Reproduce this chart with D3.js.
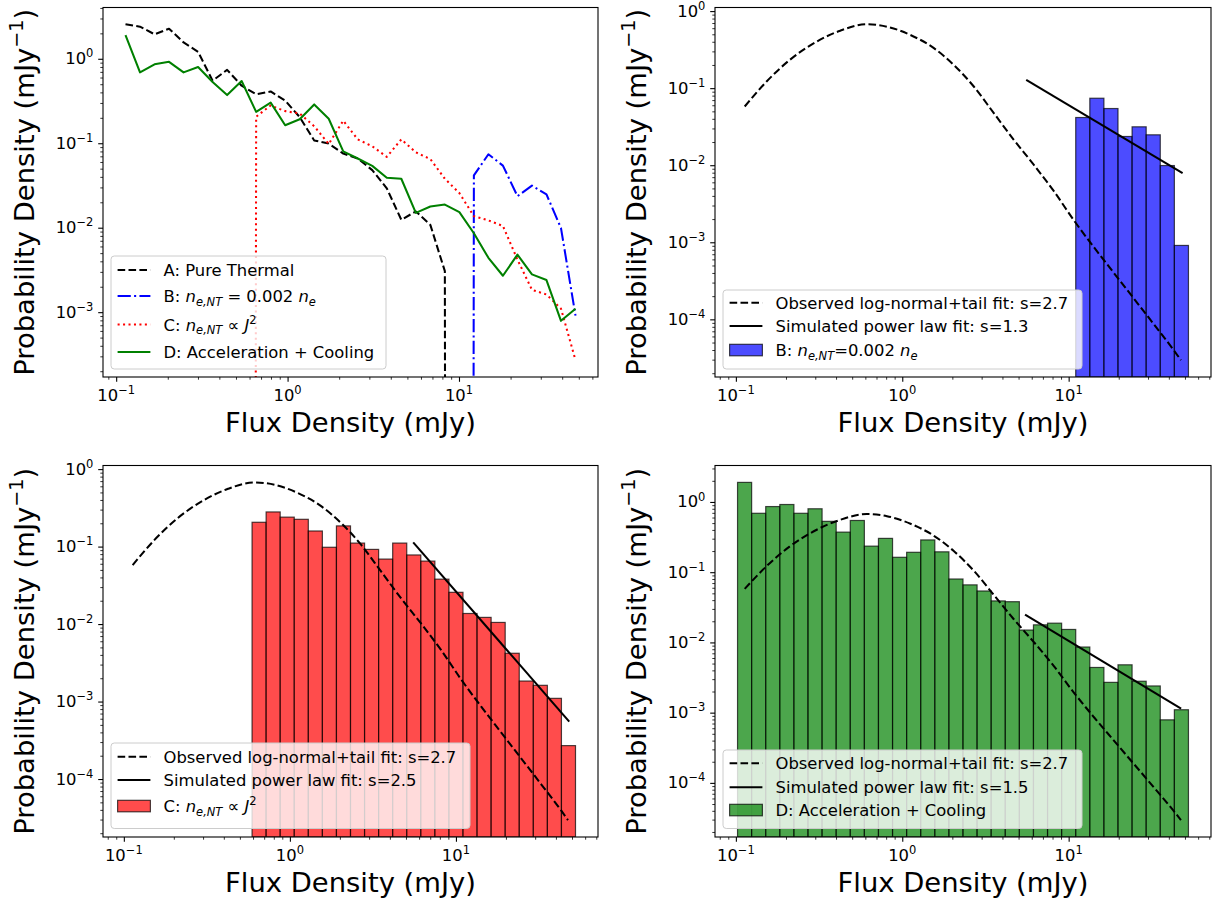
<!DOCTYPE html>
<html>
<head>
<meta charset="utf-8">
<script src="https://cdn.jsdelivr.net/npm/d3@7"></script>
<style>
body { margin: 0; background: #fff; }
text { font-family: "DejaVu Sans", sans-serif; fill: #000; }
</style>
</head>
<body>
<svg id="fig" width="1213" height="901"></svg>
<script>
// log-spaced histogram bins (flux density, mJy)
var binLogLo = -0.99, binLogHi = 1.72, nBins = 32;

// probability density per bin (mJy^-1), 0 = empty bin
var thermalA = [2.56, 2.4, 1.95, 2.27, 1.56, 1.21, 0.55, 0.74, 0.48, 0.38, 0.41, 0.32,
                0.204, 0.108, 0.099, 0.0755, 0.066, 0.048, 0.0293, 0.0124, 0.0156, 0.0108,
                0.00306, 0, 0, 0, 0, 0, 0, 0, 0, 0];
var fixedB = [0, 0, 0, 0, 0, 0, 0, 0, 0, 0, 0, 0, 0, 0, 0, 0, 0, 0, 0, 0, 0, 0, 0, 0,
              0.0416, 0.074, 0.0544, 0.0236, 0.0315, 0.0248, 0.0099, 0.00091];
var currentC = [0, 0, 0, 0, 0, 0, 0, 0, 0,
                0.206, 0.28, 0.24, 0.225, 0.159, 0.098, 0.185, 0.111, 0.092, 0.069, 0.111,
                0.078, 0.065, 0.038, 0.0257, 0.0137, 0.0122, 0.0105, 0.0042, 0.00184,
                0.00162, 0.0011, 0.00027];
var accelD = [1.9, 0.69, 0.86, 0.92, 0.69, 0.80, 0.53, 0.372, 0.545, 0.235, 0.303, 0.163,
              0.192, 0.288, 0.195, 0.08, 0.066, 0.054, 0.039, 0.038, 0.015, 0.0178, 0.0188,
              0.0153, 0.0086, 0.0044, 0.0027, 0.0048, 0.0028, 0.0024, 0.00079, 0.0011];

// observed log-normal + tail fit
var fitFlux = [0.113, 0.153, 0.211, 0.306, 0.424, 0.612, 0.809, 1.12, 1.55, 2.04, 2.69,
               3.55, 4.68, 6.18, 8.15, 10.8, 14.2, 18.7, 24.7, 32.7, 43.1, 47.3];
var fitDens = [0.0578, 0.122, 0.233, 0.402, 0.557, 0.674, 0.628, 0.49, 0.33, 0.2, 0.105,
               0.0474, 0.0214, 0.0101, 0.0046, 0.0019, 0.00086, 0.0004, 0.000185,
               0.000085, 0.000039, 0.0000295];

// simulated power law fits, end points
var powB_x = [5.56, 48.4], powB_y = [0.128, 0.0079];
var powC_x = [5.53, 48.1], powC_y = [0.1135, 0.00055];
var powD_x = [5.47, 47.4], powD_y = [0.0249, 0.00114];

var FS = 16.4, LABFS = 27.4, LW = 2.05;
var DASH = "7.6,3.3", DASHDOT = "13.2,3.3,2.05,3.3", DOT = "2.05,3.4";

var svg = d3.select("#fig");

var edges = d3.range(nBins + 1).map(function(i) {
    return Math.pow(10, binLogLo + (binLogHi - binLogLo) * i / nBins);
});
var centers = d3.range(nBins).map(function(i) { return (edges[i] + edges[i + 1]) / 2; });

// matplotlib style 5% margin in log space
function logPad(vals) {
    var lg = vals.filter(function(v) { return v > 0; }).map(Math.log10);
    var lo = d3.min(lg), hi = d3.max(lg), r = hi - lo;
    return [Math.pow(10, lo - 0.05 * r), Math.pow(10, hi + 0.05 * r)];
}

function logTicks(dom) {
    var major = [], minor = [];
    for (var e = Math.floor(Math.log10(dom[0])); e <= Math.ceil(Math.log10(dom[1])); e++) {
        var v = Math.pow(10, e);
        if (v >= dom[0] && v <= dom[1]) major.push(v);
        for (var k = 2; k < 10; k++) {
            if (k * v >= dom[0] && k * v <= dom[1]) minor.push(k * v);
        }
    }
    return {major: major, minor: minor};
}

// text with italic / sub / superscript pieces
function richText(sel, segs, size) {
    var shift = 0;
    segs.forEach(function(s) {
        if (typeof s == "string") s = {t: s};
        var target = s.sub ? size * 0.24 : (s.sup ? -size * 0.42 : 0);
        var ts = sel.append("tspan").attr("dy", target - shift).text(s.t);
        if (s.sub || s.sup) ts.attr("font-size", size * 0.7);
        if (s.i) ts.attr("font-style", "italic");
        shift = target;
    });
}

function expLabel(v) {
    var e = Math.round(Math.log10(v));
    return ["10", {t: (e < 0 ? "\u2212" + (-e) : "" + e), sup: true}];
}

var nENT = [{t: "n", i: true}, {t: "e,NT", i: true, sub: true}];

var panels = [
    {box: [103, 7.5, 598, 377], kind: "lines",
     legend: {x: 111, y: 256, w: 275, h: 113, rows: [14, 40, 68.5, 96]},
     items: [
        {type: "line", dash: DASH, color: "#000", data: thermalA, label: ["A: Pure Thermal"]},
        {type: "line", dash: DASHDOT, color: "#0000ff", data: fixedB,
         label: ["B: "].concat(nENT, [" = 0.002 ", {t: "n", i: true}, {t: "e", i: true, sub: true}])},
        {type: "line", dash: DOT, color: "#ff0000", data: currentC,
         label: ["C: "].concat(nENT, [" \u221D ", {t: "J", i: true}, {t: "2", sup: true}])},
        {type: "line", dash: null, color: "#008000", data: accelD, label: ["D: Acceleration + Cooling"]}
     ]},
    {box: [715, 7.5, 1211, 377], kind: "hist", bars: fixedB, color: "#0000ff",
     px: powB_x, py: powB_y, s: "1.3",
     legend: {x: 723, y: 290, w: 359, h: 79, rows: [12.7, 36, 60]},
     barLabel: ["B: "].concat(nENT, ["=0.002 ", {t: "n", i: true}, {t: "e", i: true, sub: true}])},
    {box: [103, 465.5, 598, 837], kind: "hist", bars: currentC, color: "#ff0000",
     px: powC_x, py: powC_y, s: "2.5",
     legend: {x: 111, y: 743, w: 359, h: 85.5, rows: [13.7, 37, 63]},
     barLabel: ["C: "].concat(nENT, [" \u221D ", {t: "J", i: true}, {t: "2", sup: true}])},
    {box: [715, 465.5, 1211, 837], kind: "hist", bars: accelD, color: "#008000",
     px: powD_x, py: powD_y, s: "1.5",
     legend: {x: 723, y: 750, w: 359, h: 78.5, rows: [13.3, 37.3, 60]},
     barLabel: ["D: Acceleration + Cooling"]}
];

panels.forEach(function(p, pi) {
    var w = p.box[2] - p.box[0], h = p.box[3] - p.box[1];
    var xdom, ydom;
    if (p.kind == "lines") {
        xdom = logPad(centers);
        ydom = logPad(thermalA.concat(fixedB, currentC, accelD));
    } else {
        xdom = logPad(edges.concat(fitFlux, p.px));
        ydom = logPad(p.bars.concat(fitDens, p.py));
    }
    var x = d3.scaleLog().domain(xdom).range([0, w]);
    var y = d3.scaleLog().domain(ydom).range([h, 0]);

    var g = svg.append("g").attr("transform", "translate(" + p.box[0] + "," + p.box[1] + ")");
    g.append("clipPath").attr("id", "clip" + pi)
        .append("rect").attr("width", w).attr("height", h);
    var plot = g.append("g").attr("clip-path", "url(#clip" + pi + ")");

    // zero densities fall far below the axis, like matplotlib clipping
    var yv = function(v) { return v > 0 ? y(v) : h + 1e4; };

    if (p.kind == "lines") {
        p.items.forEach(function(it) {
            var line = d3.line().x(function(d, i) { return x(centers[i]); }).y(function(d) { return yv(d); });
            plot.append("path").datum(it.data)
                .attr("d", line)
                .attr("fill", "none")
                .attr("stroke", it.color)
                .attr("stroke-width", LW)
                .attr("stroke-linejoin", "round")
                .attr("stroke-dasharray", it.dash);
        });
    } else {
        var bins = p.bars.map(function(v, i) { return {v: v, i: i}; }).filter(function(d) { return d.v > 0; });
        plot.selectAll("rect.bar").data(bins).enter().append("rect")
            .attr("class", "bar")
            .attr("x", function(d) { return x(edges[d.i]); })
            .attr("width", function(d) { return x(edges[d.i + 1]) - x(edges[d.i]); })
            .attr("y", function(d) { return y(d.v); })
            .attr("height", function(d) { return h - y(d.v); })
            .attr("fill", p.color).attr("fill-opacity", 0.7)
            .attr("stroke", "#000").attr("stroke-opacity", 0.7).attr("stroke-width", 1.2);

        var fit = d3.line().curve(d3.curveMonotoneX)
            .x(function(d, i) { return x(fitFlux[i]); }).y(function(d) { return y(d); });
        plot.append("path").datum(fitDens).attr("d", fit)
            .attr("fill", "none").attr("stroke", "#000").attr("stroke-width", LW)
            .attr("stroke-dasharray", DASH);

        plot.append("line")
            .attr("x1", x(p.px[0])).attr("y1", y(p.py[0]))
            .attr("x2", x(p.px[1])).attr("y2", y(p.py[1]))
            .attr("stroke", "#000").attr("stroke-width", LW);

        p.items = [
            {type: "line", dash: DASH, color: "#000", label: ["Observed log-normal+tail fit: s=2.7"]},
            {type: "line", dash: null, color: "#000", label: ["Simulated power law fit: s=" + p.s]},
            {type: "patch", color: p.color, label: p.barLabel}
        ];
    }

    // axes ticks
    var xt = logTicks(xdom), yt = logTicks(ydom);
    var clean = function(a) { a.select(".domain").remove(); a.selectAll("line").attr("stroke", "#000"); };
    g.append("g").attr("transform", "translate(0," + h + ")")
        .call(d3.axisBottom(x).tickValues(xt.minor).tickSize(2.7).tickFormat(""))
        .call(clean).selectAll("line").attr("stroke-width", 0.8);
    g.append("g").attr("transform", "translate(0," + h + ")")
        .call(d3.axisBottom(x).tickValues(xt.major).tickSize(4.8).tickFormat(""))
        .call(clean).selectAll("line").attr("stroke-width", 1.1);
    g.append("g")
        .call(d3.axisLeft(y).tickValues(yt.minor).tickSize(2.7).tickFormat(""))
        .call(clean).selectAll("line").attr("stroke-width", 0.8);
    g.append("g")
        .call(d3.axisLeft(y).tickValues(yt.major).tickSize(4.8).tickFormat(""))
        .call(clean).selectAll("line").attr("stroke-width", 1.1);

    xt.major.forEach(function(v) {
        var t = g.append("text").attr("x", x(v)).attr("y", h + 23.5)
            .attr("text-anchor", "middle").attr("font-size", FS);
        richText(t, expLabel(v), FS);
    });
    yt.major.forEach(function(v) {
        var t = g.append("text").attr("x", -9.6).attr("y", y(v) + 5.5)
            .attr("text-anchor", "end").attr("font-size", FS);
        richText(t, expLabel(v), FS);
    });

    // frame
    g.append("rect").attr("width", w).attr("height", h)
        .attr("fill", "none").attr("stroke", "#000").attr("stroke-width", 1.1);

    // axis labels
    g.append("text").attr("x", w / 2).attr("y", h + 55)
        .attr("text-anchor", "middle").attr("font-size", LABFS)
        .text("Flux Density (mJy)");
    var yl = g.append("text")
        .attr("transform", "translate(" + (34 - 103) + "," + (h / 2) + ") rotate(-90)")
        .attr("text-anchor", "middle").attr("font-size", LABFS);
    richText(yl, ["Probability Density (mJy", {t: "\u22121", sup: true}, ")"], LABFS);

    // legend
    var L = p.legend;
    var lg = svg.append("g").attr("transform", "translate(" + L.x + "," + L.y + ")");
    lg.append("rect").attr("width", L.w).attr("height", L.h).attr("rx", 3.3)
        .attr("fill", "#fff").attr("fill-opacity", 0.8)
        .attr("stroke", "#cccccc").attr("stroke-width", 1);
    p.items.forEach(function(it, k) {
        var ry = L.rows[k];
        if (it.type == "line") {
            lg.append("line").attr("x1", 6.6).attr("x2", 39.4).attr("y1", ry).attr("y2", ry)
                .attr("stroke", it.color).attr("stroke-width", LW)
                .attr("stroke-dasharray", it.dash);
        } else {
            lg.append("rect").attr("x", 6.6).attr("y", ry - 5.7).attr("width", 32.8).attr("height", 11.5)
                .attr("fill", it.color).attr("fill-opacity", 0.7)
                .attr("stroke", "#000").attr("stroke-opacity", 0.7).attr("stroke-width", 1.2);
        }
        var t = lg.append("text").attr("x", 52.5).attr("y", ry + 6).attr("font-size", FS);
        richText(t, it.label, FS);
    });
});
</script>
</body>
</html>
